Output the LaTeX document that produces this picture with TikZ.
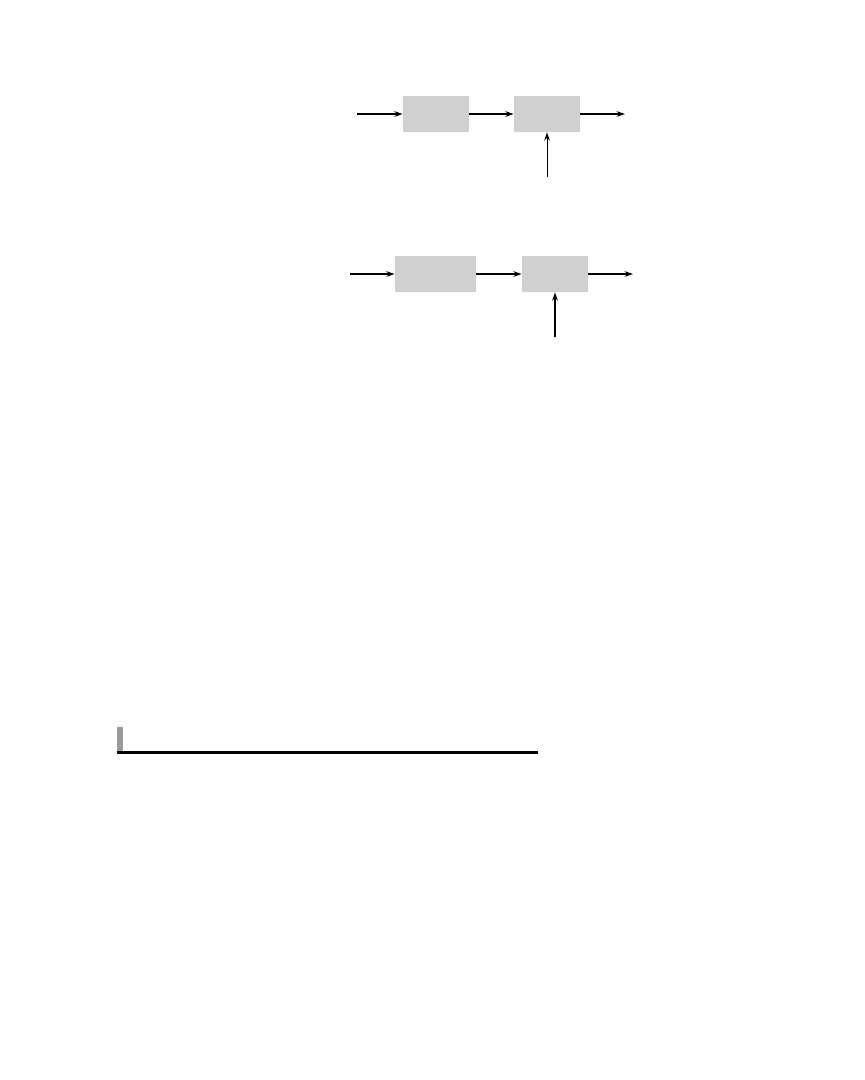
\documentclass[tikz,border=0pt]{standalone}
\usetikzlibrary{arrows.meta}
\definecolor{boxgray}{RGB}{208,208,208}
\definecolor{bargray}{RGB}{155,155,155}
\begin{document}
\begin{tikzpicture}[x=0.025cm, y=-0.025cm, >={Stealth[length=6pt,width=4pt]},
        block/.style={fill=boxgray, inner sep=0pt, minimum height=0.9cm, minimum width=1.65cm},
        wide/.style={block, minimum width=2.025cm},
        flow/.style={line width=1pt, ->}]
        \useasboundingbox (0, 0) rectangle (864, 1080);

        \node[block] (a1) at (436, 114) {};
        \node[block] (b1) at (547, 114) {};
        \coordinate (in1) at (357, 114);
        \coordinate (out1) at (625, 114);
        \coordinate (up1) at (547, 177);

        \node[wide] (a2) at (435.5, 274) {};
        \node[block] (b2) at (555, 274) {};
        \coordinate (in2) at (350, 274);
        \coordinate (out2) at (633, 274);
        \coordinate (up2) at (555, 337);

        \draw[flow] (in1) -- (a1);
        \draw[flow] (a1) -- (b1);
        \draw[flow] (b1) -- (out1);
        \draw[line width=0.7pt,->] (up1) -- (b1);

        \draw[flow] (in2) -- (a2);
        \draw[flow] (a2) -- (b2);
        \draw[flow] (b2) -- (out2);
        \draw[line width=1.4pt,->] (up2) -- (b2);

        \fill[bargray] (117, 727) rectangle (123, 752);
        \draw[line width=2pt] (117, 752.5) -- (538, 752.5);

    \end{tikzpicture}
\end{document}
